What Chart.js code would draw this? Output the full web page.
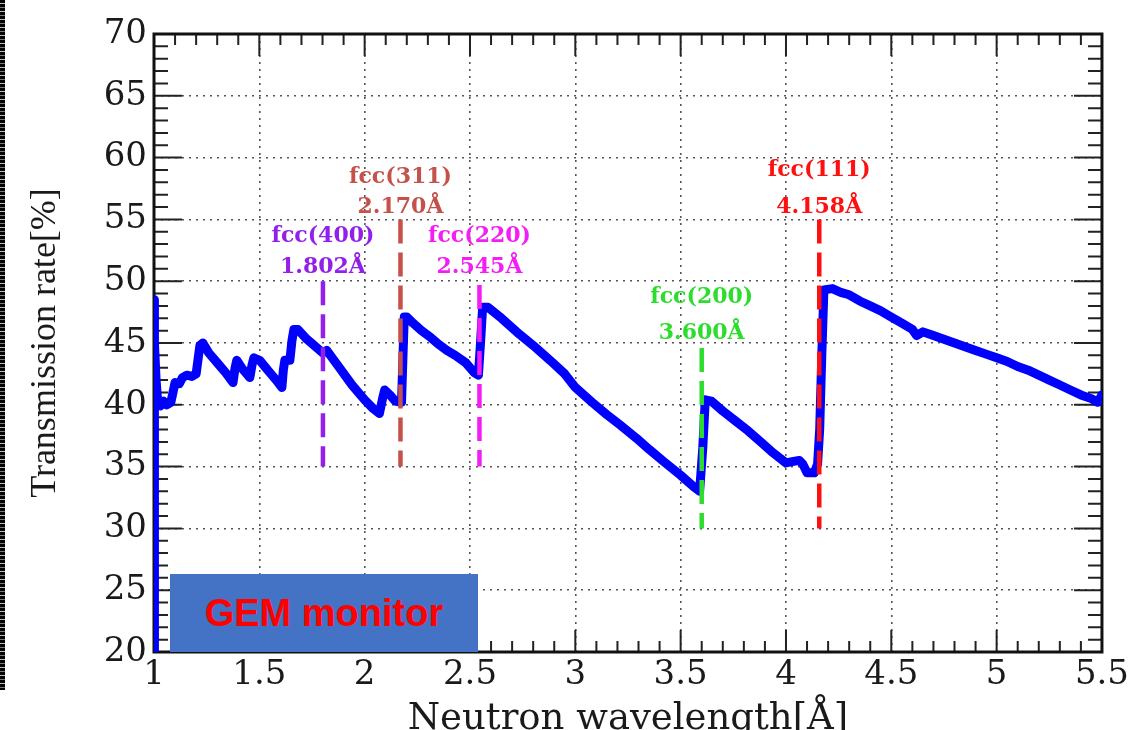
<!DOCTYPE html>
<html>
<head>
<meta charset="utf-8">
<script src="https://cdn.jsdelivr.net/npm/chart.js@4.4.0/dist/chart.umd.min.js"></script>
<style>
  body { margin: 0; background: #fff; }
  #wrap { position: relative; width: 1132px; height: 730px; overflow: hidden; }
  #strip { position: absolute; left: 0; top: 0; width: 5px; height: 690px;
    background: repeating-linear-gradient(#000 0 3px, #bbb 3px 4px, #000 4px 7px, #777 7px 8px); }
  #gem { position: absolute; left: 170px; top: 574px; width: 308px; height: 78px;
    background: #4472c4; color: #ff0000; font: bold 38px "Liberation Sans", Arial, sans-serif;
    display: flex; align-items: center; justify-content: center; }
</style>
</head>
<body>
<div id="wrap">
  <canvas id="c" width="1132" height="730"></canvas>
  <div id="strip"></div>
  <div id="gem">GEM monitor</div>
</div>
<script>
// transmission curve
var wavelength = [
  1.000, 1.000, 1.004, 1.010, 1.016, 1.030, 1.045, 1.060, 1.080, 1.090, 1.100, 1.120, 1.135, 1.156, 1.180, 1.200,
  1.210, 1.218, 1.232, 1.260, 1.300, 1.340, 1.375, 1.385, 1.393, 1.420, 1.455, 1.465, 1.474, 1.502, 1.540, 1.580,
  1.607, 1.614, 1.621, 1.645, 1.655, 1.664, 1.683, 1.720, 1.760, 1.801, 1.820, 1.880, 1.940, 2.000, 2.040, 2.070,
  2.085, 2.095, 2.120, 2.145, 2.175, 2.182, 2.188, 2.200,
  2.230, 2.270, 2.310, 2.350, 2.390, 2.430, 2.480, 2.520, 2.540, 2.550, 2.560, 2.585,
  2.650, 2.735, 2.800, 2.880, 2.950, 3.000, 3.080, 3.150, 3.210, 3.290, 3.350, 3.420, 3.500, 3.560, 3.590, 3.605,
  3.617, 3.646,
  3.700, 3.760, 3.820, 3.880, 3.940, 4.000, 4.030, 4.063, 4.080, 4.100, 4.134, 4.150, 4.160, 4.170, 4.180, 4.220,
  4.260, 4.300, 4.350, 4.400, 4.450, 4.500, 4.550, 4.600, 4.620, 4.650, 4.700, 4.750, 4.800, 4.850, 4.900, 4.950,
  5.000, 5.050, 5.100, 5.150, 5.200, 5.250, 5.300, 5.350, 5.400, 5.450, 5.480, 5.500
];
var transmission = [
  20.0, 48.5, 45.0, 42.0, 40.6, 39.9, 40.3, 40.0, 40.2, 41.0, 41.8, 41.7, 42.2, 42.4, 42.3, 42.5,
  43.8, 44.8, 45.0, 44.2, 43.4, 42.6, 41.8, 43.0, 43.6, 42.9, 42.2, 43.2, 43.8, 43.6, 42.8, 42.0,
  41.4, 42.8, 43.6, 43.6, 45.2, 46.1, 46.1, 45.4, 44.8, 44.2, 44.4, 43.0, 41.6, 40.4, 39.7, 39.3,
  40.5, 41.2, 40.8, 40.3, 40.2, 44.0, 47.1, 47.1,
  46.6, 46.0, 45.5, 44.9, 44.4, 44.0, 43.4, 42.6, 42.4, 45.0, 47.9, 47.9,
  47.0, 45.7, 44.8, 43.6, 42.5, 41.4, 40.2, 39.2, 38.4, 37.3, 36.4, 35.4, 34.3, 33.4, 33.0, 36.5,
  40.4, 40.3,
  39.5, 38.7, 37.9, 37.0, 36.1, 35.3, 35.4, 35.5, 35.2, 34.5, 34.5, 35.2, 38.0, 44.0, 49.3, 49.4,
  49.1, 48.9, 48.4, 48.0, 47.6, 47.1, 46.6, 46.1, 45.6, 45.9, 45.6, 45.3, 45.0, 44.7, 44.4, 44.1,
  43.8, 43.5, 43.1, 42.8, 42.4, 42.0, 41.6, 41.2, 40.8, 40.5, 40.2, 40.8
];

// fcc reflections (dashed markers)
var peakNames = ['fcc(400)', 'fcc(311)', 'fcc(220)', 'fcc(200)', 'fcc(111)'];
var peakTexts = ['1.802Å', '2.170Å', '2.545Å', '3.600Å', '4.158Å'];
var peakPos = [1.802, 2.170, 2.545, 3.600, 4.158];
var peakLow = [35, 35, 35, 30, 30];
var peakHigh = [50, 55, 49.7, 44.6, 55];

var xTicks = [1, 1.5, 2, 2.5, 3, 3.5, 4, 4.5, 5, 5.5];
var yTicks = [20, 25, 30, 35, 40, 45, 50, 55, 60, 65, 70];

var peakColors = ['#9320ea', '#c5514b', '#f41ef4', '#2ddd2d', '#ff1010'];
// where the two label lines sit (in axis units)
var nameAt = [53.6, 58.4, 53.6, 48.7, 59.0];
var textAt = [51.1, 56.0, 51.1, 45.8, 56.0];

var datasets = [];
for (var i = 0; i < peakPos.length; i++) {
  datasets.push({
    data: [{x: peakPos[i], y: peakHigh[i]}, {x: peakPos[i], y: peakLow[i]}],
    borderColor: peakColors[i],
    borderWidth: 4.5,
    borderDash: [24, 9],
    pointRadius: 0,
    order: 0
  });
}
datasets.push({
  data: wavelength.map(function (w, k) { return {x: w, y: transmission[k]}; }),
  borderColor: '#0000ff',
  borderWidth: 9,
  borderJoinStyle: 'round',
  borderCapStyle: 'round',
  pointRadius: 0,
  tension: 0,
  order: 1
});

var framePlugin = {
  id: 'frame',
  beforeDatasetsDraw: function (chart) {
    var c = chart.ctx, a = chart.chartArea, xs = chart.scales.x, ys = chart.scales.y;
    c.save();
    c.strokeStyle = '#222';
    c.lineWidth = 2;
    c.beginPath();
    for (var i = 0; i <= 45; i++) {
      var px = xs.getPixelForValue(1 + i / 10);
      var len = (i % 5 === 0) ? 22 : 11;
      c.moveTo(px, a.bottom); c.lineTo(px, a.bottom - len);
      c.moveTo(px, a.top); c.lineTo(px, a.top + len);
    }
    for (var j = 0; j <= 50; j++) {
      var py = ys.getPixelForValue(20 + j);
      var l = (j % 5 === 0) ? 28 : 14;
      c.moveTo(a.left, py); c.lineTo(a.left + l, py);
      c.moveTo(a.right, py); c.lineTo(a.right - l, py);
    }
    c.stroke();
    c.lineWidth = 3;
    c.strokeStyle = '#111';
    c.strokeRect(a.left, a.top, a.right - a.left, a.bottom - a.top);
    c.restore();
  }
};

var labelPlugin = {
  id: 'peakLabels',
  afterDatasetsDraw: function (chart) {
    var c = chart.ctx, xs = chart.scales.x, ys = chart.scales.y;
    c.save();
    c.font = 'bold 22px "DejaVu Serif", serif';
    c.textAlign = 'center';
    c.textBaseline = 'middle';
    for (var i = 0; i < peakNames.length; i++) {
      var px = xs.getPixelForValue(peakPos[i]);
      c.fillStyle = peakColors[i];
      c.fillText(peakNames[i], px, ys.getPixelForValue(nameAt[i]));
      c.fillText(peakTexts[i], px, ys.getPixelForValue(textAt[i]));
    }
    c.restore();
  }
};

new Chart(document.getElementById('c'), {
  type: 'line',
  data: { datasets: datasets },
  options: {
    responsive: false,
    animation: false,
    layout: { padding: { top: 34, right: 29, left: 0, bottom: 0 } },
    plugins: { legend: { display: false }, tooltip: { enabled: false } },
    scales: {
      x: {
        type: 'linear', min: 1, max: 5.5,
        afterBuildTicks: function (s) { s.ticks = xTicks.map(function (v) { return {value: v}; }); },
        afterFit: function (s) { s.height = 78; },
        ticks: {
          font: { family: 'DejaVu Serif', size: 34 }, color: '#1a1a1a', padding: 3,
          maxRotation: 0, autoSkip: false,
          callback: function (v) { return String(v); }
        },
        grid: { color: '#555', lineWidth: 1.6, drawTicks: false, borderDash: [2, 5] },
        border: { display: false, dash: [2, 5] },
        title: {
          display: true, text: 'Neutron wavelength[Å]', color: '#1a1a1a', padding: 0,
          font: { family: 'DejaVu Serif', size: 37, lineHeight: 0.55 }
        }
      },
      y: {
        min: 20, max: 70,
        afterBuildTicks: function (s) { s.ticks = yTicks.map(function (v) { return {value: v}; }); },
        afterFit: function (s) { s.width = 154; },
        ticks: {
          font: { family: 'DejaVu Serif', size: 34 }, color: '#1a1a1a', padding: 7,
          callback: function (v) { return String(v); }
        },
        grid: { color: '#555', lineWidth: 1.6, drawTicks: false, borderDash: [2, 5] },
        border: { display: false, dash: [2, 5] },
        title: {
          display: true, text: 'Transmission rate[%]', color: '#1a1a1a',
          padding: { top: 28, bottom: 0 },
          font: { family: 'Liberation Serif', size: 36, lineHeight: 1 }
        }
      }
    }
  },
  plugins: [framePlugin, labelPlugin]
});
</script>
</body>
</html>
